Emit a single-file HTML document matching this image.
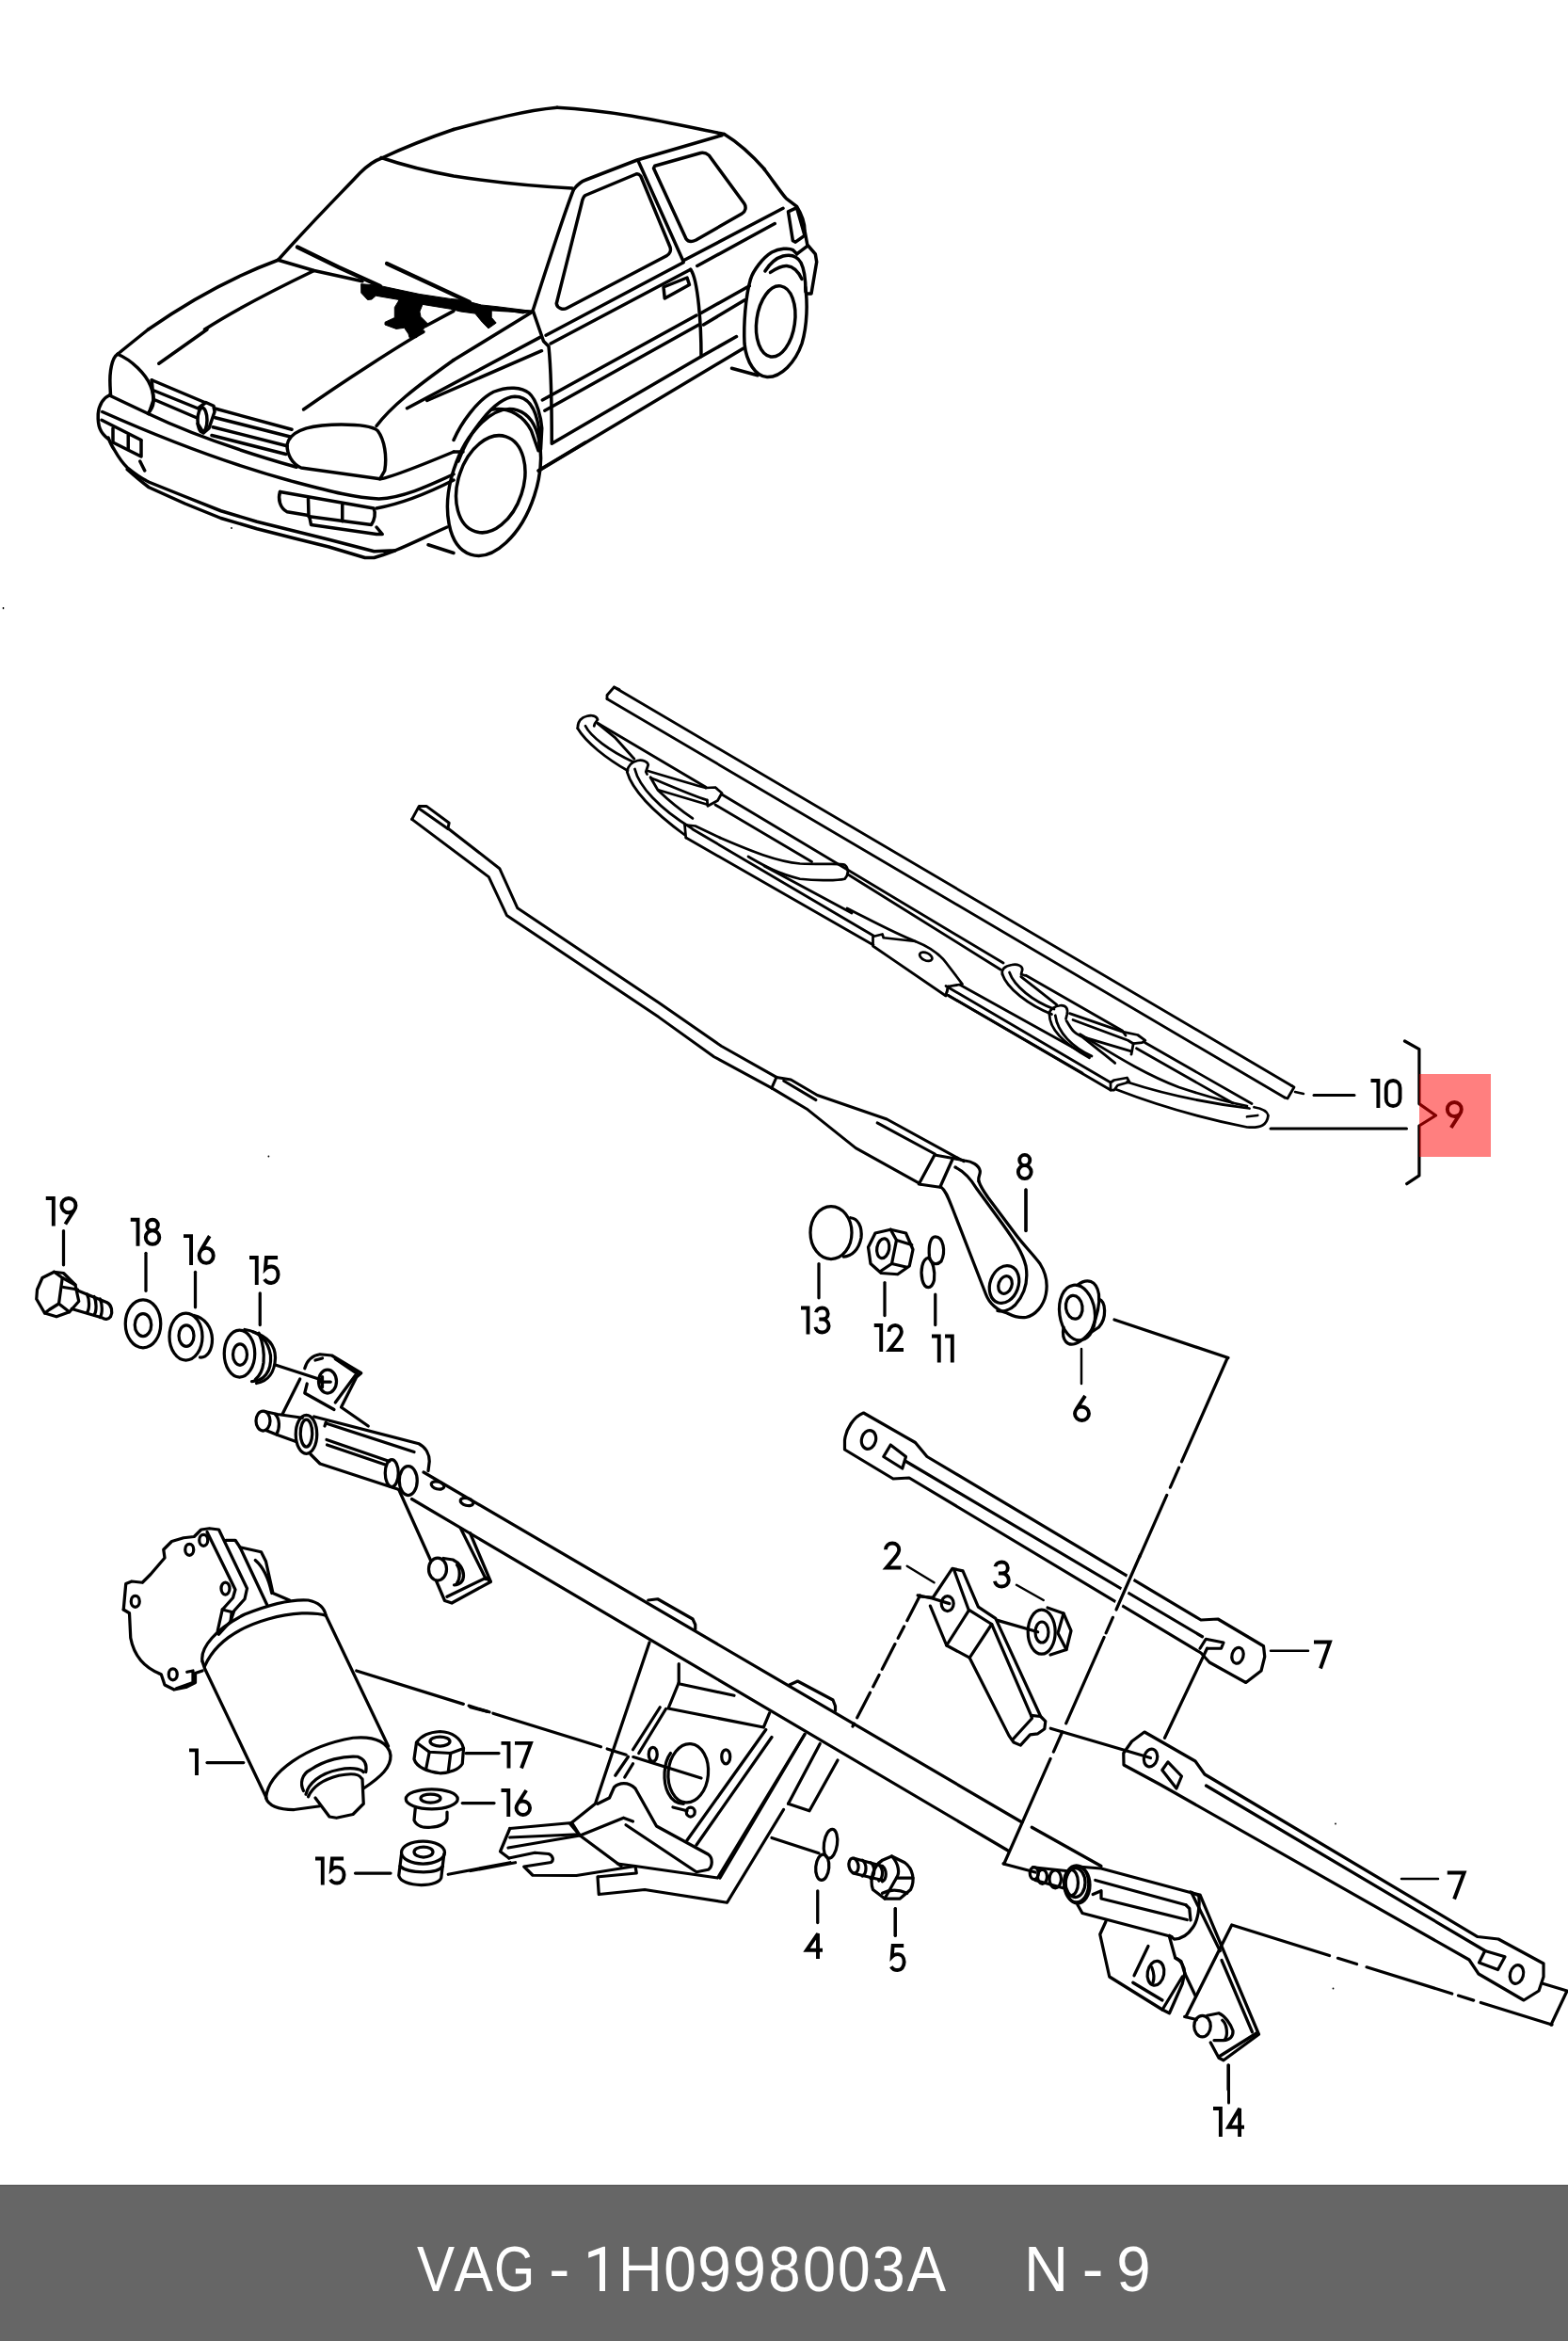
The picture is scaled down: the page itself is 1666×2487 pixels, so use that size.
<!DOCTYPE html>
<html><head><meta charset="utf-8">
<style>
html,body{margin:0;padding:0;background:#fff;}
body{width:1666px;height:2487px;position:relative;overflow:hidden;font-family:"Liberation Sans",sans-serif;}
svg{position:absolute;left:0;top:0;}
.s{fill:none;stroke:#000;stroke-linecap:round;stroke-linejoin:round;}
</style></head><body>
<svg width="1666" height="2487" viewBox="0 0 1666 2487">
<!--CAR--><g class="s" stroke-width="14" transform="translate(90,90) scale(0.25)">
<path d="M1262,312 C1330,280 1450,230 1568,190"/>
<path d="M1262,312 C1225,325 1200,345 1170,375 C1080,470 950,600 822,745"/>
<path d="M822,745 L975,790 L1180,835"/>
<path d="M822,745 C700,790 500,880 270,1040"/>
<path d="M975,790 C850,850 650,950 510,1040"/>
</g>
<g class="s" stroke-width="14" transform="translate(482,90) scale(0.25)">
<path d="M0,190 C150,150 300,110 440,97"/>
<path d="M440,97 C700,110 950,170 1150,210"/>
<path d="M1150,210 C1200,240 1260,290 1322,360"/>
<path d="M510,445 C530,420 545,410 560,405 L780,320 L1140,215"/>
<path d="M510,445 C480,520 420,700 335,965"/>
<path d="M560,470 L775,380 C785,377 790,382 795,388 L920,690 C925,705 918,720 905,727 L480,950 C465,958 440,950 437,930 L545,500 C548,485 552,475 560,470 Z"/>
<path d="M785,325 L975,748"/>
<path d="M855,345 L1050,290 C1065,287 1075,292 1085,300 L1235,505 C1245,520 1240,540 1225,548 L1030,660 C1010,670 995,665 988,655 L850,355 Z"/>
<path d="M975,748 L1400,525"/>
<path d="M1035,770 L1365,590"/>
<path d="M160,955 L330,965"/>
</g>
<g class="s" stroke-width="14" transform="translate(540,250) scale(0.25)">
<path d="M105,320 L150,450 L172,472 C180,550 185,690 185,885 L820,515 L970,430"/>
<path d="M160,425 L745,115"/>
<path d="M180,460 L775,145"/>
<path d="M775,145 C790,165 800,200 810,300 C818,380 820,450 820,515"/>
<path d="M660,220 L760,180 L770,210 L665,268 Z"/>
<path d="M145,700 L800,340"/>
<path d="M155,745 L810,380"/>
<path d="M820,330 L1025,215"/>
<path d="M830,380 L1005,275"/>
<path d="M130,1000 L1000,480"/>
<path d="M950,565 L1060,595"/>
</g>
<g class="s" stroke-width="14" transform="translate(90,350) scale(0.25)">
<path d="M270,0 C220,40 170,80 140,105"/>
<path d="M520,0 L315,145"/>
<path d="M1440,10 C1350,60 1100,220 930,340"/>
<path d="M1240,410 C1300,330 1400,250 1568,130"/>
<path d="M140,105 C200,130 260,190 280,240 C300,290 295,330 270,355"/>
<path d="M140,105 C115,120 105,180 108,240 L110,280"/>
<path d="M105,280 L270,358"/>
<path d="M285,215 L510,310"/>
<path d="M550,335 L880,425"/>
<path d="M295,260 L480,335"/>
<path d="M300,300 L475,375"/>
<path d="M555,375 L870,455"/>
<path d="M545,415 L860,495"/>
<path d="M540,450 L855,530"/>
<path d="M285,215 L292,300 L272,358"/>
<path d="M270,358 C400,420 600,500 900,585"/>
<ellipse cx="500" cy="385" rx="20" ry="52"/>
<path d="M482,335 L515,310 L548,325 L552,350 L528,420 L505,440 L480,400"/>
<path d="M860,490 C870,440 930,410 1050,405 C1150,402 1220,410 1245,430 C1275,470 1285,540 1275,600 L1255,635 L920,588 C880,570 860,530 860,490 Z"/>
<path d="M1255,635 C1300,630 1400,590 1568,520"/>
<path d="M105,280 C80,290 60,320 57,360 C55,410 65,440 100,465"/>
<path d="M75,350 C300,450 600,570 900,650 C1050,690 1150,715 1250,720 C1350,715 1450,670 1568,615"/>
<path d="M72,385 L240,470"/>
<path d="M120,420 L120,480 L240,540 L240,472"/>
<path d="M185,450 L185,510"/>
<path d="M235,560 L255,600"/>
<path d="M100,460 C110,485 118,500 125,510 C145,545 165,572 181,587 C215,615 245,635 274,649 L426,710 L579,771 L732,817 L885,855 L1038,893 L1230,943 L1320,939 C1380,915 1450,880 1540,840"/>
<path d="M181,595 C215,625 245,650 273,671 L426,740 L579,802 L732,847 L885,886 L1038,924 L1191,970 L1230,970 L1268,958 L1320,939"/>
<path d="M830,690 C820,720 830,760 860,775 L950,790"/>
<path d="M830,690 L1228,760 C1238,780 1232,810 1218,830 L955,795"/>
<path d="M950,720 L952,795"/>
<path d="M1095,745 L1095,815"/>
<path d="M955,795 L962,830 L1240,870 L1265,870 L1240,840"/>
<path d="M1240,760 C1350,740 1450,700 1568,640"/>
<path d="M1460,915 L1568,950"/>
</g>
<g class="s" stroke-width="14" transform="translate(482,350) scale(0.25)">
<ellipse cx="172" cy="650" rx="180" ry="322" transform="rotate(18 172 650)"/>
<ellipse cx="157" cy="657" rx="138" ry="212" transform="rotate(18 157 657)"/>
<path d="M0,470 C30,400 100,300 170,265 C230,240 290,245 320,270 C355,300 372,380 375,420 L370,510"/>
<path d="M20,560 C60,450 170,290 260,285 C320,285 350,340 362,420 L365,510"/>
<path d="M165,340 C240,330 300,370 330,430 L360,515"/>
<path d="M0,520 L40,520"/>
<path d="M360,600 L560,480"/>
</g>
<g stroke="#000" stroke-linecap="round" fill="none">
<path d="M316,262.5 L360,284 L404,304" stroke-width="4.5"/>
<path d="M411,280 L499,321" stroke-width="4.2"/>
<path d="M384,301.7 L402.5,303.3 L445.9,312.5 L478.4,317.4 L490.7,318.5 L511.5,324 L528,325.7 L563.7,330.2 L556,333 L522.2,327.7 L522.2,337.3 L527.2,343.1 L518.9,348.9 L512.3,342.2 L504.8,333.1 L489.3,331 L478.4,328.2 L449,323.4 L445.9,331 L447,336.4 L454.6,344 L442.6,358.6 L435,358.6 L434,354.8 L429.6,348.3 L421,349.4 L409,345 L409,342.3 L419.3,337.5 L419.3,326.6 L424.2,318.5 L399.3,314.2 L395,318 L390.6,318.5 L384,311.4 Z" fill="#000" stroke-width="1"/>
</g>
<g class="s" stroke-width="3.5">
<path d="M432.5,433.75 L573.75,358.4"/>
<path d="M453.75,425.5 L575.5,372.7"/>
<path d="M482,382.5 L564.5,332"/>
<path d="M452,346.5 L482,330.4"/>
<path d="M405,167.5 C430,176 460,183 482,187 C520,193 570,198 608,200"/>
</g>
<g class="s" stroke-width="3.5">
<path d="M797.5,296.5 C792,315 790,345 791,365 C793,385 803,400 815,400.5 C830,401 845,385 852,365 C858,345 858,320 855.7,305"/>
<ellipse cx="824.2" cy="341.4" rx="20.3" ry="37.9" transform="rotate(8 824.2 341.4)"/>
<path d="M797.5,296.5 C800,288 810,274 820,268 C828,264 838,263 842.4,265.6 L846.7,269.8"/>
<path d="M812.9,288 C818,280 825,274 832,272 C840,270 847,272 851,279 C854,285 856,296 856,310"/>
<path d="M818.5,289.4 C825,285 830,282 836,282.5 C842,283 848,288 852,296.5"/>
<path d="M812.2,180 C820,190 830,205 835.4,210.9 L846.6,219.3 C852,228 855,238 855,245 L857.8,260 L866.3,269.8 L867.7,278.2 L862,312 L857,312"/>
<path d="M837.5,224.9 L846.6,220.7 L855,250.2 L845.2,257.2 L842.4,255.8 Z"/>
<path d="M846.6,269.8 L857.8,261.4"/>
</g>
<!--/CAR-->
<!--BLADE--><g class="s" stroke-width="2.8">
<path d="M652.5,730 L1372.5,1153.5"/>
<path d="M645,742.5 L1365,1166"/>
<path d="M645,742.5 L645,738.5 L652.5,730 L658,732.5"/>
<path d="M1365,1166 L1368,1167 L1375,1155 L1372.5,1153.5"/>
<path d="M1376,1160 L1385,1162" stroke-width="2.5"/>
<path d="M634.8,768.4 L653.2,783.3 L673.9,806.3"/>
<path d="M691.1,825.8 C694,831 697,836 699.1,839.5 C710,850 722,860 735.9,869.4"/>
<path d="M700.3,839.5 L750.8,854.5"/>
<path d="M1084.8,1037.6 L1100.9,1050.2 L1122.7,1067.4"/>
<path d="M1133.1,1084.6 C1136,1089 1138,1093 1141.1,1096.1 C1144,1099 1147,1100 1150.3,1101.8 C1162,1111 1173,1120 1184.7,1129.4"/>
<path d="M1151.4,1101.8 L1202,1116.8"/>
<path d="M1136.5,1076.6 L1192.8,1096.1 L1208.8,1099.5 L1216.9,1105.3 L1213.4,1107.6 L1204.2,1108.7 L1202,1120.2"/>
<path d="M1140,1083.5 L1198.5,1105.3 L1204.2,1108.7"/>
<path d="M1192.8,1095.5 L1196,1100"/>
<path d="M767,844 L1066,1023"/>
<path d="M901,929 L1063,1030"/>
<path d="M729,890 L928,1004"/>
<path d="M736,881 L928,994"/>
<path d="M812,920 L905,970"/>
</g>
<g class="s" stroke-width="11" transform="translate(600,720) scale(0.25)">
<path d="M55,215 C55,190 65,170 95,163 C115,158 135,162 140,178 L128,195 L125,205"/>
<path d="M55,215 C90,275 180,345 268,395"/>
<path d="M88,205 C110,250 190,310 290,357"/>
<path d="M140,193 L600,465"/>
<path d="M265,400 C268,375 285,358 310,352 C330,348 352,355 355,370 L345,400 L350,410"/>
<path d="M265,400 C285,470 370,565 510,668"/>
<path d="M298,388 C315,460 400,555 540,640"/>
<path d="M350,395 C450,425 550,455 600,468"/>
<path d="M365,425 C450,460 540,500 605,520"/>
<path d="M600,468 L640,466 L668,490 L650,522 L608,545 L605,520"/>
<path d="M640,540 L1050,782"/>
<path d="M510,625 L515,680"/>
<path d="M510,625 L555,630 L660,680"/>
<path d="M660,680 C800,740 900,780 1000,790 C1100,795 1170,788 1190,795 C1210,810 1205,840 1190,855 C1150,865 1050,860 1000,855 C900,830 850,800 780,760"/>
</g>
<g class="s" stroke-width="11" transform="translate(900,880) scale(0.25)">
<path d="M110,460 L150,450 L155,465 L290,480 C340,500 390,530 420,570 L490,662 L430,672 L420,712 L110,500 Z"/>
<path d="M0,340 C100,390 200,445 290,480"/>
<path d="M430,672 L420,710"/>
<ellipse cx="335" cy="545" rx="28" ry="16" transform="rotate(25 335 545)"/>
<path d="M480,665 L1030,970"/>
<path d="M430,710 L1000,1040"/>
<path d="M660,620 C655,600 670,585 700,580 C725,575 745,585 745,600 L740,620 L755,625"/>
<path d="M660,620 C680,680 770,750 870,790"/>
<path d="M690,612 C710,670 790,735 880,768"/>
<path d="M760,625 L1170,860"/>
<path d="M860,790 C860,770 880,755 910,752 C930,752 940,765 935,790 L930,810"/>
<path d="M860,790 C860,860 930,920 1030,975"/>
<path d="M885,795 C895,870 960,930 1040,968"/>
<path d="M1230,935 L1640,1168"/>
</g>
<g class="s" stroke-width="11" transform="translate(1000,1000) scale(0.25)">
<path d="M20,190 L720,600"/>
<path d="M30,230 L720,632"/>
<path d="M720,600 L735,590 L790,580 L800,598 L750,612 L735,632 L720,632 Z"/>
<path d="M745,630 C900,690 1100,750 1300,790 C1360,795 1385,780 1390,740 C1385,720 1360,710 1330,705"/>
<path d="M790,598 C950,650 1150,690 1310,710"/>
<path d="M1300,745 L1345,740"/>
<path d="M865,430 L1320,690"/>
<path d="M590,395 C700,460 850,560 1010,620 C1100,650 1200,680 1300,700"/>
</g>
<!--/BLADE--><!--PARTS--><!-- wiper arm -->
<g class="s" stroke-width="3">
<path d="M475.9,880 L530.8,922.7 L549.9,964.8 L700,1065.3 L766.3,1111.2 L825,1144.4"/>
<path d="M437.7,870.4 L519.3,931.6 L538.4,972.4 L700,1080.6 L758.7,1122.7 L819.9,1155.9"/>
<path d="M437.7,870.4 L445.3,856.4 L453,856.4 L477.2,874.2 L475.9,880"/>
<path d="M445.3,859 L475.9,880.6"/>
<path d="M819.9,1155.9 L825,1144.4"/>
<path d="M825,1144.4 L840.3,1147 L868.4,1163.5 L942.3,1189 L1024,1233.7"/>
<path d="M832.7,1148.2 L867,1168.6"/>
<path d="M932.1,1192.9 L993.4,1226"/>
<path d="M819.9,1155.9 L858.2,1178.8 L909.2,1219.6 L978.1,1257.9"/>
</g>
<!-- arm 8 and small parts (f4 offset 840,1200) -->
<g class="s" stroke-width="13" transform="translate(840,1200) scale(0.25)">
<path d="M545,232 L612,108 L690,122 L635,245 Z"/>
<path d="M690,122 L740,132 C770,135 800,150 805,175 C808,190 795,200 800,220"/>
<path d="M640,245 C660,260 670,290 690,340 L830,700 C845,740 880,770 920,780 C950,795 975,802 1000,798 C1040,790 1075,750 1085,700 C1095,650 1085,610 1060,570 C1030,530 990,490 960,450 L840,290 C815,255 805,235 800,220"/>
<path d="M700,160 C730,175 760,200 790,250 L900,400 C950,470 985,520 1000,580 C1010,640 995,700 955,745 C930,770 900,775 880,770"/>
<ellipse cx="908" cy="658" rx="60" ry="82" transform="rotate(20 908 658)"/>
<ellipse cx="912" cy="660" rx="28" ry="38" transform="rotate(20 912 660)"/>
<path d="M1000,255 L1000,430"/>
<ellipse cx="172" cy="438" rx="88" ry="112"/>
<path d="M225,540 C260,540 290,510 300,460 C305,410 285,378 255,375"/>
<path d="M120,570 L120,715"/>
<path d="M425,425 L490,440 L520,510 L505,580 L455,615 L385,610 L340,570 L330,500 L360,440 Z"/>
<ellipse cx="393" cy="505" rx="26" ry="42" transform="rotate(10 393 505)"/>
<path d="M425,425 L450,470 L430,570 L385,600"/>
<path d="M450,470 L515,490"/>
<path d="M430,570 L495,585"/>
<path d="M400,650 L400,790"/>
<path d="M615,455 C595,455 585,490 590,540 C595,570 620,580 640,560 C660,520 650,455 615,455 Z"/>
<path d="M585,545 C560,550 550,600 560,640 C570,680 600,680 610,640 C615,600 605,560 585,545"/>
<path d="M615,700 L615,830"/>
<ellipse cx="1218" cy="778" rx="75" ry="118" transform="rotate(-8 1218 778)"/>
<ellipse cx="1205" cy="755" rx="35" ry="50" transform="rotate(-8 1205 755)"/>
<path d="M1160,840 C1150,900 1180,920 1210,910 C1240,900 1280,860 1290,830"/>
<path d="M1220,660 C1260,630 1300,640 1310,700 C1315,740 1300,800 1280,850"/>
<path d="M1310,720 C1340,730 1345,800 1310,840 L1280,860"/>
</g>
<g class="s" stroke-width="3.2">
<path d="M1184,1402 L1305,1442.5"/>
<path d="M1304,1443 L1066.8,1980" stroke-dasharray="120,7,23,9,130,12,18,5,100,10,23,8,200"/>
<path d="M1066,1980 L1100,1989"/>
<path d="M1149,1433 L1149,1470" stroke-width="2.5"/>
</g>
<!-- left small parts (f4 offset 20,1250) -->
<g class="s" stroke-width="13" transform="translate(20,1250) scale(0.25)">
<path d="M190,230 L190,375"/>
<path d="M540,325 L540,485"/>
<path d="M750,405 L750,555"/>
<path d="M1025,495 L1025,630"/>
<path d="M100,430 L150,405 L190,410 L240,460 L255,530 L215,575 L160,595 L110,580 L75,520 L78,480 Z"/>
<path d="M150,405 L185,430 L240,460"/>
<path d="M185,430 L170,540 L215,575"/>
<path d="M110,580 L130,565 L170,540"/>
<path d="M190,470 L250,480"/>
<path d="M245,482 L375,535 C395,545 400,575 390,595 C380,608 365,608 355,600 L225,562"/>
<path d="M290,500 C300,520 302,560 290,578"/>
<path d="M320,510 C330,530 332,570 320,588"/>
<path d="M345,520 C355,540 357,580 345,598"/>
<ellipse cx="528" cy="625" rx="75" ry="102"/>
<ellipse cx="528" cy="630" rx="35" ry="48"/>
<ellipse cx="710" cy="680" rx="70" ry="100"/>
<ellipse cx="712" cy="676" rx="32" ry="45"/>
<path d="M745,590 C790,600 820,640 822,690 C822,740 800,770 770,768"/>
<ellipse cx="938" cy="752" rx="65" ry="100"/>
<ellipse cx="940" cy="756" rx="30" ry="45"/>
<path d="M960,650 C1030,660 1060,700 1070,760 C1075,830 1040,870 990,870"/>
<path d="M995,660 C1060,680 1090,720 1090,770 C1088,830 1060,870 1010,878"/>
<path d="M1020,665 C1035,700 1045,740 1040,790 C1035,830 1020,850 1005,862"/>
</g>
<!-- pivot bracket (f4 offset 260,1420) -->
<g class="s" stroke-width="13" transform="translate(260,1420) scale(0.25)">
<path d="M130,120 L330,185"/>
<path d="M160,330 L235,180"/>
<path d="M255,135 C265,100 290,80 320,75 L370,80 L495,155 L475,172 L410,300 L525,380"/>
<path d="M265,200 L255,240 L380,310"/>
<path d="M300,100 L330,92"/>
<path d="M385,95 L478,158"/>
<path d="M385,280 L470,165"/>
<ellipse cx="352" cy="190" rx="38" ry="50"/>
<path d="M330,170 L330,215 M315,192 L365,192"/>
<ellipse cx="78" cy="358" rx="30" ry="42"/>
<path d="M85,318 L140,330 L245,345"/>
<path d="M90,398 L140,418 L215,445"/>
<path d="M130,330 C150,350 150,390 135,415"/>
<ellipse cx="262" cy="415" rx="45" ry="82"/>
<ellipse cx="262" cy="410" rx="25" ry="58"/>
<path d="M295,340 L740,455 C770,470 785,500 785,530 L780,570"/>
<path d="M345,368 L720,490"/>
<path d="M340,380 L345,365"/>
<path d="M348,438 L615,530"/>
<path d="M350,460 L600,545"/>
<path d="M280,500 L320,540 L650,648"/>
<ellipse cx="625" cy="580" rx="28" ry="58"/>
<ellipse cx="695" cy="612" rx="38" ry="62"/>
</g>
<g class="s" stroke-width="3.2">
<path d="M450,1564 L1086,1936"/>
<path d="M437.5,1592.5 L1071,1966"/>
<path d="M688.75,1700 L698.75,1698.75 L736,1720 L738.75,1726 L738.75,1731"/>
<path d="M838.75,1790 L847.5,1786 L885,1806 L887.5,1812.5 L887.5,1817.5"/>
<ellipse cx="465" cy="1578" rx="7" ry="3.8" transform="rotate(15 465 1578)"/>
<ellipse cx="496" cy="1595.5" rx="7" ry="3.8" transform="rotate(15 496 1595.5)"/>
<path d="M977.5,1695 L906,1834" stroke-dasharray="30,7,14,7"/>
<path d="M977,1696 L990,1697"/>
</g>
<!-- lower arm of left pivot (f4 offset 420,1540) -->
<g class="s" stroke-width="13" transform="translate(420,1540) scale(0.25)">
<path d="M15,170 L150,470"/>
<ellipse cx="180" cy="508" rx="38" ry="48"/>
<path d="M205,462 L245,468 C270,480 290,505 290,535 C290,560 275,575 250,575"/>
<path d="M262,490 C275,505 278,545 262,568"/>
<path d="M175,560 L210,642 L240,652 L405,562 L390,548"/>
<path d="M220,625 L385,545"/>
<path d="M278,335 L385,550"/>
<path d="M318,355 L405,560"/>
</g>
<!-- motor (f4 offset 110,1600) -->
<g class="s" stroke-width="13" transform="translate(110,1600) scale(0.25)">
<path d="M85,440 L95,330 L120,320 L165,325 L200,290 L260,220 L255,185 L290,150 L340,135 L385,130 L415,100 L450,95 L490,100 L610,350 L600,395 L555,445 L540,490 L490,545"/>
<path d="M85,440 L110,455 L115,560 C130,640 180,690 245,715 L260,760 L300,780 L350,770 L390,750 L390,710 L420,700"/>
<path d="M440,110 L560,355 L550,390 L505,440 L485,530"/>
<path d="M505,440 L545,450 L540,490"/>
<path d="M520,145 L560,145 L580,175 L670,195 L690,235 L720,370 L790,400"/>
<path d="M580,175 L695,420"/>
<path d="M645,230 C680,260 700,300 715,370"/>
<ellipse cx="135" cy="405" rx="18" ry="24"/>
<ellipse cx="365" cy="185" rx="18" ry="24"/>
<ellipse cx="425" cy="145" rx="18" ry="24"/>
<ellipse cx="518" cy="350" rx="18" ry="26"/>
<ellipse cx="295" cy="715" rx="18" ry="24"/>
<path d="M355,705 L380,700 L380,750 L310,775"/>
<path d="M420,660 C410,600 480,520 600,460 C700,420 800,395 870,400 C920,410 940,440 945,465"/>
<path d="M430,680 C470,590 560,520 700,480 C800,450 900,450 945,465"/>
<path d="M420,660 L430,690 L692,1240"/>
<path d="M945,465 L1210,1020"/>
</g>
<!-- motor bottom, 17,16,15 (f4 offset 150,1820) -->
<g class="s" stroke-width="13" transform="translate(150,1820) scale(0.25)">
<path d="M530,360 C540,250 700,140 900,105 C1000,95 1055,130 1060,180 C1062,230 1020,270 945,320"/>
<path d="M530,360 C540,390 580,410 650,410 L760,395"/>
<path d="M690,330 C675,300 680,260 720,240 C780,200 860,180 920,185 C950,195 960,220 955,250"/>
<path d="M700,345 C710,300 760,255 840,240 C890,230 930,235 945,250"/>
<path d="M710,355 C730,310 780,280 840,265 C890,255 925,258 935,275"/>
<path d="M740,360 L800,440 L830,445 L900,430 L945,385 L940,280"/>
<path d="M280,210 L435,210"/>
<path d="M1170,125 C1190,95 1230,80 1270,78 C1320,80 1360,105 1370,150 L1365,215 C1350,240 1310,255 1270,255 C1220,250 1170,230 1160,195 Z"/>
<ellipse cx="1270" cy="120" rx="42" ry="20"/>
<path d="M1170,125 L1225,165 L1315,170 L1370,150"/>
<path d="M1225,165 L1210,240"/>
<path d="M1315,170 L1305,250"/>
<path d="M1380,170 L1520,170"/>
<ellipse cx="1235" cy="365" rx="110" ry="42"/>
<ellipse cx="1230" cy="362" rx="42" ry="18"/>
<path d="M1165,405 L1160,455 C1170,480 1200,488 1230,485 C1270,482 1295,470 1300,450 L1300,420"/>
<path d="M1365,382 L1500,382"/>
<ellipse cx="1198" cy="592" rx="92" ry="48"/>
<ellipse cx="1200" cy="590" rx="40" ry="22"/>
<path d="M1106,600 L1095,690 C1100,715 1140,730 1190,730 C1240,730 1270,715 1275,700 L1287,600"/>
<path d="M1100,650 C1120,670 1160,675 1200,675 C1240,675 1270,668 1282,650"/>
<path d="M910,680 L1060,680"/>
<path d="M1305,685 L1568,635"/>
</g>
<g class="s" stroke-width="3.2">
<path d="M378.75,1775 L745,1889" stroke-dasharray="119,6,21,6,120,7,21,8,90"/>
</g>
<!-- center bracket (f4 offset 500,1780) -->
<g class="s" stroke-width="13" transform="translate(500,1780) scale(0.25)">
<path d="M760,-140 L605,320 L530,545 L430,625"/>
<path d="M885,-50 L885,35 L1120,85"/>
<path d="M885,30 L840,140 L1245,220 L1270,160"/>
<path d="M1255,230 L920,700"/>
<path d="M1280,262 L960,720"/>
<path d="M1420,250 L1060,860"/>
<path d="M805,135 L690,315 M670,345 L615,425"/>
<path d="M830,142 L715,330 M690,375 L655,432"/>
<ellipse cx="925" cy="415" rx="85" ry="125" transform="rotate(5 925 415)"/>
<path d="M850,330 C820,370 815,450 840,500 C855,530 880,545 905,545"/>
<ellipse cx="775" cy="335" rx="18" ry="30"/>
<ellipse cx="1085" cy="345" rx="18" ry="30"/>
<ellipse cx="935" cy="580" rx="18" ry="20"/>
<path d="M860,560 L920,575"/>
<path d="M430,625 L465,680 L650,605 L690,620"/>
<path d="M540,545 L590,520 L610,475 C630,455 670,450 700,480 L790,640 L1010,760 C1030,775 1030,810 1010,825 L960,835 L660,635"/>
<path d="M465,680 L640,810"/>
<path d="M167,650 L420,627 L465,680 L160,732 M163,776 L273,753 L332,758 C350,765 355,785 342,794 L310,799 L227,812 L264,849 L450,850 L700,810 L1050,860 L1420,250"/>
<path d="M167,688 L458,675"/>
<path d="M167,650 L126,748 L163,776"/>
<path d="M540,855 L545,930 L740,910 L1090,965 L1330,570"/>
<path d="M625,800 L700,810 L705,840 L545,855"/>
<path d="M1350,545 L1440,575 L1560,360"/>
<path d="M1485,290 L1350,545"/>
<path d="M0,135 L80,155"/>
<path d="M0,830 L190,795"/>
</g>
<!-- parts 4,5 and right pivot (f4 offset 820,1880) -->
<g class="s" stroke-width="13" transform="translate(820,1880) scale(0.25)">
<path d="M0,290 L200,355"/>
<ellipse cx="250" cy="315" rx="28" ry="62" transform="rotate(8 250 315)"/>
<ellipse cx="215" cy="415" rx="28" ry="55" transform="rotate(5 215 415)"/>
<path d="M195,515 L195,650"/>
<ellipse cx="348" cy="408" rx="20" ry="32" transform="rotate(-10 348 408)"/>
<path d="M350,377 L470,410 M345,440 L470,470"/>
<path d="M385,385 C405,400 405,440 385,452"/>
<path d="M420,395 C440,410 440,450 420,462"/>
<path d="M455,405 C475,420 475,460 455,472"/>
<path d="M470,410 C490,425 490,465 470,475"/>
<path d="M430,510 C415,470 430,410 470,385 L510,368 L565,395 C600,420 610,470 590,510 L545,548 L480,548 Z"/>
<path d="M510,368 C540,400 545,440 530,460 L480,548"/>
<path d="M530,460 L600,460"/>
<path d="M470,525 C500,510 540,510 575,525"/>
<path d="M525,590 L525,705"/>
<path d="M1105,245 L1400,410"/>
<ellipse cx="1115" cy="440" rx="18" ry="26"/>
<ellipse cx="1150" cy="455" rx="20" ry="30"/>
<ellipse cx="1205" cy="465" rx="25" ry="38"/>
<path d="M1110,415 L1250,430 M1120,470 L1245,505"/>
<ellipse cx="1290" cy="480" rx="42" ry="62"/>
<ellipse cx="1300" cy="490" rx="52" ry="78"/>
</g>
<!-- right pivot + arm 14 (f4 offset 1120,1960) -->
<g class="s" stroke-width="13" transform="translate(1120,1960) scale(0.25)">
<ellipse cx="95" cy="165" rx="52" ry="78"/>
<ellipse cx="72" cy="160" rx="30" ry="55"/>
<path d="M100,92 L200,100 L590,205"/>
<path d="M175,150 L560,255"/>
<path d="M165,210 L200,195 L200,228 L565,318"/>
<path d="M100,255 L120,290 L500,390"/>
<path d="M580,200 L615,215 C620,260 612,320 590,350 C570,380 540,400 510,400 L490,385"/>
<path d="M560,255 L575,270 L580,320"/>
<path d="M220,325 L195,380 L235,560 L460,700 L490,715 L545,590 L555,545 L540,495 L515,480 L490,390"/>
<path d="M400,430 L340,555"/>
<path d="M335,585 L460,660"/>
<path d="M515,480 C540,490 555,520 555,545"/>
<path d="M460,700 L545,560"/>
<ellipse cx="432" cy="545" rx="35" ry="52" transform="rotate(10 432 545)"/>
<path d="M415,520 C425,545 425,570 420,585"/>
<path d="M585,205 L620,212 L870,805 L720,915 L700,905 L665,840"/>
<path d="M585,205 L705,450"/>
<path d="M712,490 L842,795"/>
<path d="M700,900 L860,800"/>
<path d="M555,545 L600,640"/>
<ellipse cx="630" cy="770" rx="35" ry="45"/>
<path d="M650,725 L700,715 C725,725 750,760 760,790 C762,815 745,830 720,830 L680,830"/>
<path d="M715,745 C735,760 740,810 725,828"/>
<path d="M560,730 L755,340 L1170,470"/>
<path d="M555,730 L605,742"/>
<path d="M740,935 L740,1040"/>
</g>
<g class="s" stroke-width="3.2">
<path d="M1421.5,2080.3 L1649,2151" stroke-dasharray="21,11,95,7,17,8,90"/>
<path d="M1640,2107.5 L1665,2115 L1648,2151"/>
<!-- rod 7 lower -->
<path d="M1216,1840 L1270,1871 L1280,1885 L1570,2057.5 L1592,2060 L1640,2086 L1640,2100 L1635,2115 L1619,2125 L1571,2097 L1561,2082 L1233,1896 L1194,1875 L1193.75,1862.5 L1202.5,1850 Z"/>
<path d="M1281.5,1897 L1578,2072.5"/>
<path d="M1571.5,2085 L1577.75,2072.5 L1599,2078.75 L1591.5,2092.5 Z"/>
<ellipse cx="1611.5" cy="2097.5" rx="7" ry="10" transform="rotate(15 1611.5 2097.5)"/>
<ellipse cx="1222.5" cy="1867.5" rx="7" ry="9.5" transform="rotate(15 1222.5 1867.5)"/>
<path d="M1234.8,1880.5 L1240.9,1871.9 L1255.5,1887 L1250,1900 Z"/>
<path d="M1489,1996 L1528,1996" stroke-width="2.5"/>
<!-- rod 7 upper -->
<path d="M897.5,1540 L897.5,1530 C899,1518 907,1505 917.5,1501 L972.5,1532.5 L985,1547.5 L1276,1721 L1294,1720 L1342.5,1748.75 L1343.75,1760 L1340,1775 L1323.75,1787.5 L1285,1766 L1276,1756 L966,1570 L949,1571 Z"/>
<path d="M962.5,1552.5 L1277.5,1738.75"/>
<ellipse cx="923" cy="1529.5" rx="7.5" ry="10" transform="rotate(15 923 1529.5)"/>
<path d="M938.75,1547.5 L946.25,1535 L962.5,1547.5 L958.75,1560 Z"/>
<path d="M1275,1751.25 L1281.25,1741.25 L1300,1745 L1297.5,1751.25 L1282.5,1751.25"/>
<ellipse cx="1315" cy="1758.75" rx="6" ry="8.5" transform="rotate(15 1315 1758.75)"/>
<path d="M1282.5,1751.25 L1237.5,1846.25"/>
<path d="M1210.5,1655 L1185.5,1711" stroke="#fff" stroke-width="8" stroke-linecap="butt"/>
<path d="M1211.5,1652 L1186,1710"/>
<path d="M1350,1753.75 L1390,1753.75" stroke-width="2.5"/>
<!-- part 2 -->
<path d="M991.4,1697 L1011.8,1666.3 L1023,1668.9 L1039.4,1707.1 L1057.8,1719.4 L1105.7,1823.5 L1110.8,1828.6 L1109.8,1836.7 L1102.7,1841.8 L1094.5,1842.9 L1084.3,1854.1 L1077,1851 L1072,1843.9 L1030.2,1761.2 L1005.7,1748 L988.4,1706.1"/>
<path d="M1013.9,1668.4 L1029.2,1710.2 L1053.7,1725.5 L1095.5,1822.4 L1105.7,1823.5"/>
<path d="M1030.2,1761.2 L1053.7,1725.5"/>
<path d="M1005.7,1748 L1029.2,1711.2"/>
<path d="M1076,1848 L1096.5,1825.5 L1095.5,1822.4"/>
<ellipse cx="1006.7" cy="1703.6" rx="6.5" ry="8"/>
<path d="M975.1,1694.9 L990.4,1698 L1008.8,1703.6"/>
<path d="M1059.8,1721.4 L1102.7,1733.7"/>
<path d="M1116.25,1836.25 L1222.5,1867.5"/>
<!-- part 3 -->
<ellipse cx="1106.7" cy="1733.7" rx="14.5" ry="23.5"/>
<ellipse cx="1107" cy="1734" rx="7" ry="11"/>
<path d="M1113,1708 L1130,1714 L1138,1732.5 L1133,1752.5 L1116,1758"/>
<path d="M1130,1714 L1124,1735 L1133,1752.5"/>
<!-- leaders for 2,3 -->
<path d="M963.75,1663.75 L992.5,1681.25" stroke-width="2.5"/>
<path d="M1080,1683.75 L1108.75,1700" stroke-width="2.5"/>
</g>
<g class="s" stroke-width="3.2">
<path d="M1492.5,1106 L1507.9,1114.7 L1507.9,1172.6 L1525.5,1185 L1507.9,1196 L1507.9,1248.9 L1494.7,1257.7"/>
<path d="M1396,1163.4 L1439,1163.4" stroke-width="3"/>
<path d="M1350,1199 L1494.5,1199" stroke-width="3"/>
<path d="M1090,1264 L1090,1307.5" stroke-width="3"/>
<path d="M1305.5,2194 L1305.5,2234" stroke-width="3"/>
<path d="M951.25,2027.5 L951.25,2056.25" stroke-width="3"/>
</g>
<g fill="#000">
<rect x="2.8" y="645" width="1.4" height="2.2"/>
<circle cx="285.4" cy="1228.5" r="0.9"/>
<circle cx="1419" cy="1937.5" r="0.9"/>
<circle cx="1416.5" cy="2112.5" r="0.9"/>
<circle cx="246" cy="561" r="0.9"/>
</g>
<g fill="none" stroke="#000" stroke-width="3.9" stroke-linecap="butt" stroke-linejoin="miter" stroke-miterlimit="3">
<path d="M 48.75,1273.03 L 56.81,1273.03 L 56.81,1302.50"/>
<path d="M 69.40,1300.47 L 78.47,1286.24 C 79.78,1284.21 80.49,1282.69 80.49,1280.65 C 80.49,1276.39 77.06,1273.03 72.93,1273.03 C 68.80,1273.03 65.37,1276.39 65.37,1280.65 C 65.37,1284.92 68.80,1288.27 72.93,1288.27 C 75.45,1288.27 77.46,1287.26 78.47,1286.24"/>
<path d="M 138.75,1295.69 L 146.51,1295.69 L 146.51,1323.75"/>
<path d="M 162.03,1295.69 C 165.24,1295.69 167.85,1298.30 167.85,1301.49 C 167.85,1304.69 165.24,1307.30 162.03,1307.30 C 158.83,1307.30 156.21,1304.69 156.21,1301.49 C 156.21,1298.30 158.83,1295.69 162.03,1295.69 Z M 162.03,1307.30 C 166.01,1307.30 169.31,1310.40 169.31,1314.56 C 169.31,1318.72 166.01,1321.81 162.03,1321.81 C 158.06,1321.81 154.76,1318.72 154.76,1314.56 C 154.76,1310.40 158.06,1307.30 162.03,1307.30 Z"/>
<path d="M 195.00,1313.13 L 203.06,1313.13 L 203.06,1344.00"/>
<path d="M 222.71,1313.13 L 213.64,1328.03 C 212.33,1330.16 211.62,1331.76 211.62,1333.89 C 211.62,1338.36 215.05,1341.87 219.18,1341.87 C 223.31,1341.87 226.74,1338.36 226.74,1333.89 C 226.74,1329.42 223.31,1325.90 219.18,1325.90 C 216.66,1325.90 214.65,1326.97 213.64,1328.03"/>
<path d="M 265.00,1336.00 L 272.76,1336.00 L 272.76,1365.00"/>
<path d="M 295.07,1336.00 L 282.95,1336.00 L 281.98,1348.00 C 283.43,1346.50 285.86,1345.50 288.28,1345.50 C 292.65,1345.50 295.56,1349.00 295.56,1354.00 C 295.56,1359.50 292.16,1363.00 288.28,1363.00 C 284.89,1363.00 282.46,1361.50 281.01,1359.00"/>
<path d="M 851.00,1389.44 L 858.52,1389.44 L 858.52,1417.50"/>
<path d="M 866.99,1394.27 C 867.46,1391.37 870.28,1389.44 873.57,1389.44 C 876.86,1389.44 879.68,1391.85 879.68,1395.73 C 879.68,1399.11 876.86,1401.53 873.57,1401.53 L 870.28,1401.53 M 873.57,1401.53 C 877.33,1401.53 880.62,1404.44 880.62,1408.79 C 880.62,1412.66 877.33,1415.56 873.57,1415.56 C 869.81,1415.56 866.99,1413.15 866.51,1409.76"/>
<path d="M 928.75,1407.94 L 936.21,1407.94 L 936.21,1436.00"/>
<path d="M 944.42,1414.71 C 944.42,1410.84 947.41,1407.94 951.14,1407.94 C 954.87,1407.94 957.85,1410.84 957.85,1414.71 C 957.85,1418.10 955.80,1420.52 953.47,1423.42 L 945.07,1434.06 L 960.00,1434.06"/>
<path d="M 990.00,1419.44 L 997.76,1419.44 L 997.76,1447.50"/>
<path d="M 1004.06,1419.44 L 1011.81,1419.44 L 1011.81,1447.50"/>
<path d="M 1088.75,1226.87 C 1091.79,1226.87 1094.28,1229.40 1094.28,1232.48 C 1094.28,1235.57 1091.79,1238.10 1088.75,1238.10 C 1085.71,1238.10 1083.22,1235.57 1083.22,1232.48 C 1083.22,1229.40 1085.71,1226.87 1088.75,1226.87 Z M 1088.75,1238.10 C 1092.53,1238.10 1095.66,1241.09 1095.66,1245.11 C 1095.66,1249.14 1092.53,1252.13 1088.75,1252.13 C 1084.97,1252.13 1081.84,1249.14 1081.84,1245.11 C 1081.84,1241.09 1084.97,1238.10 1088.75,1238.10 Z"/>
<path d="M 1153.00,1482.94 L 1144.00,1496.48 C 1142.70,1498.42 1142.00,1499.87 1142.00,1501.81 C 1142.00,1505.87 1145.40,1509.06 1149.50,1509.06 C 1153.60,1509.06 1157.00,1505.87 1157.00,1501.81 C 1157.00,1497.74 1153.60,1494.55 1149.50,1494.55 C 1147.00,1494.55 1145.00,1495.52 1144.00,1496.48"/>
<path d="M 1456.50,1148.00 L 1464.38,1148.00 L 1464.38,1177.00"/>
<path d="M 1480.14,1148.00 C 1484.18,1148.00 1487.53,1151.00 1487.53,1156.00 L 1487.53,1167.00 C 1487.53,1172.00 1484.18,1175.00 1480.14,1175.00 C 1476.10,1175.00 1472.75,1172.00 1472.75,1167.00 L 1472.75,1156.00 C 1472.75,1151.00 1476.10,1148.00 1480.14,1148.00 Z"/>
<path d="M 1541.80,1198.00 L 1550.80,1184.00 C 1552.10,1182.00 1552.80,1180.50 1552.80,1178.50 C 1552.80,1174.30 1549.40,1171.00 1545.30,1171.00 C 1541.20,1171.00 1537.80,1174.30 1537.80,1178.50 C 1537.80,1182.70 1541.20,1186.00 1545.30,1186.00 C 1547.80,1186.00 1549.80,1185.00 1550.80,1184.00"/>
<path d="M 941.02,1646.21 C 941.02,1642.34 944.18,1639.44 948.12,1639.44 C 952.07,1639.44 955.23,1642.34 955.23,1646.21 C 955.23,1649.60 953.06,1652.02 950.59,1654.92 L 941.71,1665.56 L 957.50,1665.56"/>
<path d="M 1057.47,1664.27 C 1057.96,1661.37 1060.92,1659.44 1064.38,1659.44 C 1067.83,1659.44 1070.79,1661.85 1070.79,1665.73 C 1070.79,1669.11 1067.83,1671.53 1064.38,1671.53 L 1060.92,1671.53 M 1064.38,1671.53 C 1068.32,1671.53 1071.78,1674.44 1071.78,1678.79 C 1071.78,1682.66 1068.32,1685.56 1064.38,1685.56 C 1060.43,1685.56 1057.47,1683.15 1056.97,1679.76"/>
<path d="M 1396.00,1744.44 L 1413.00,1744.44 L 1403.00,1772.50"/>
<path d="M 1537.75,1989.44 L 1555.64,1989.44 L 1545.12,2017.50"/>
<path d="M 201.00,1859.34 L 209.00,1859.34 L 209.00,1886.00"/>
<path d="M 532.50,1851.84 L 540.50,1851.84 L 540.50,1878.50"/>
<path d="M 547.00,1851.84 L 564.00,1851.84 L 554.00,1878.50"/>
<path d="M 532.50,1901.94 L 540.26,1901.94 L 540.26,1930.00"/>
<path d="M 559.18,1901.94 L 550.45,1915.48 C 549.19,1917.42 548.51,1918.87 548.51,1920.81 C 548.51,1924.87 551.81,1928.06 555.78,1928.06 C 559.76,1928.06 563.06,1924.87 563.06,1920.81 C 563.06,1916.74 559.76,1913.55 555.78,1913.55 C 553.36,1913.55 551.42,1914.52 550.45,1915.48"/>
<path d="M 335.00,1974.44 L 342.76,1974.44 L 342.76,2002.50"/>
<path d="M 365.07,1974.44 L 352.95,1974.44 L 351.98,1986.05 C 353.43,1984.60 355.86,1983.63 358.28,1983.63 C 362.65,1983.63 365.56,1987.02 365.56,1991.85 C 365.56,1997.18 362.16,2000.56 358.28,2000.56 C 354.89,2000.56 352.46,1999.11 351.01,1996.69"/>
<path d="M 869.00,2081.00 L 869.00,2054.34 L 857.00,2071.81 L 874.00,2071.81"/>
<path d="M 960.20,2066.94 L 948.68,2066.94 L 947.76,2078.55 C 949.14,2077.10 951.45,2076.13 953.75,2076.13 C 957.89,2076.13 960.66,2079.52 960.66,2084.35 C 960.66,2089.68 957.43,2093.06 953.75,2093.06 C 950.53,2093.06 948.22,2091.61 946.84,2089.19"/>
<path d="M 1289.00,2240.06 L 1296.88,2240.06 L 1296.88,2270.00"/>
<path d="M 1317.07,2270.00 L 1317.07,2240.06 L 1305.25,2259.68 L 1322.00,2259.68"/>
</g>
<rect x="1508" y="1141" width="76" height="88" fill="rgba(255,0,0,0.5)"/>
<!--/PARTS-->
<!--BAR--><rect x="0" y="2321" width="1666" height="166" fill="#666"/>
<rect x="0" y="2321" width="1666" height="1.2" fill="#585858"/>
<g font-family="Liberation Sans" font-size="69" fill="#fff">
<text transform="matrix(0.8700,0,0,1,443.04,2434)">V</text>
<text transform="matrix(0.8993,0,0,1,482.62,2434)">A</text>
<text transform="matrix(0.8044,0,0,1,524.88,2434)">G</text>
<text transform="matrix(0.9583,0,0,1,583.13,2434)">-</text>
<text transform="matrix(0.9481,0,0,1,656.70,2434)">H</text>
<text transform="matrix(0.9030,0,0,1,705.16,2434)">0</text>
<text transform="matrix(0.9279,0,0,1,741.33,2434)">9</text>
<text transform="matrix(0.9216,0,0,1,778.55,2434)">9</text>
<text transform="matrix(0.8920,0,0,1,816.32,2434)">8</text>
<text transform="matrix(0.9121,0,0,1,853.04,2434)">0</text>
<text transform="matrix(0.9030,0,0,1,890.06,2434)">0</text>
<text transform="matrix(0.9113,0,0,1,926.63,2434)">3</text>
<text transform="matrix(0.8993,0,0,1,963.72,2434)">A</text>
<text transform="matrix(0.9455,0,0,1,1087.91,2434)">N</text>
<text transform="matrix(0.9881,0,0,1,1149.64,2434)">-</text>
<text transform="matrix(0.9498,0,0,1,1186.16,2434)">9</text>
</g>
<path d="M625.2,2392.5 L641,2386.8 L643,2386.8 L643,2434 L637,2434 L637,2394.5 L625.2,2398.8 Z" fill="#fff"/>
<!--/BAR-->
</svg>
</body></html>
